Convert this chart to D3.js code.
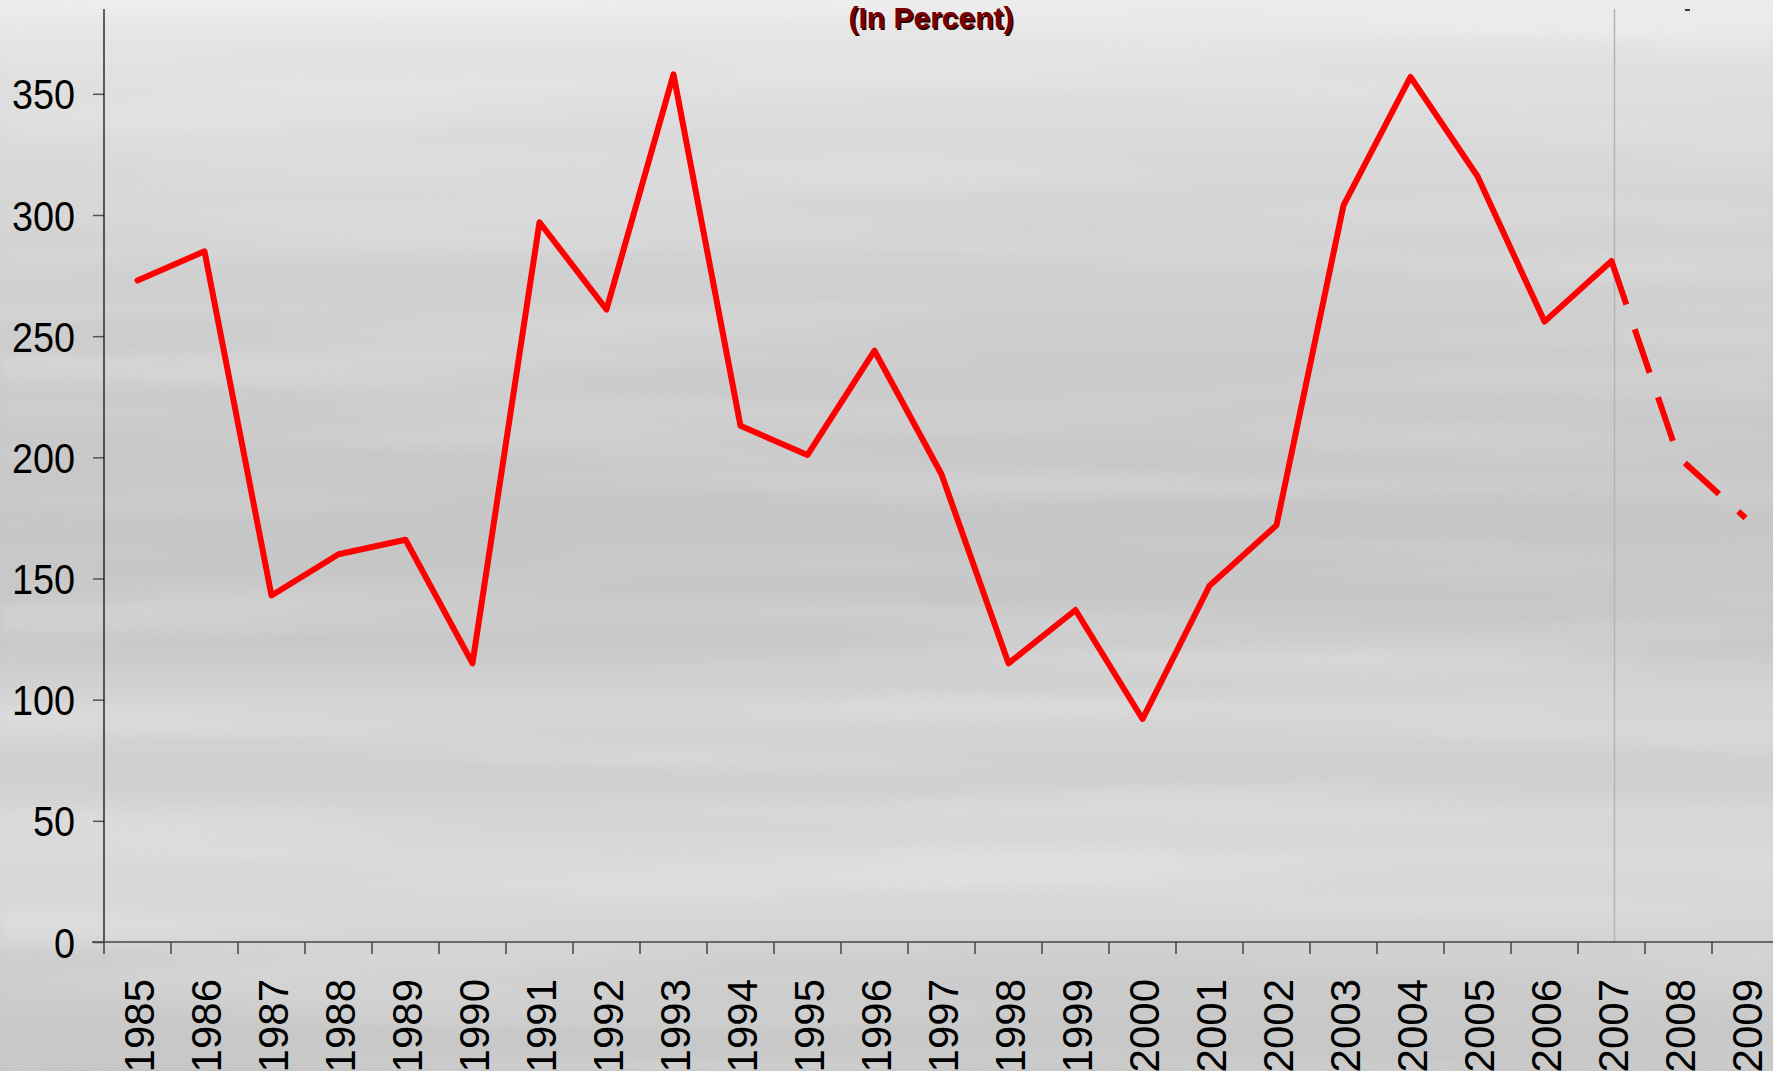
<!DOCTYPE html>
<html>
<head>
<meta charset="utf-8">
<script src="https://cdn.jsdelivr.net/npm/d3@7"></script>
<style>
  html, body { margin: 0; padding: 0; background: #d0d0d0; overflow: hidden; }
  svg { display: block; }
  text { font-family: "Liberation Sans", Arial, sans-serif; }
</style>
</head>
<body>
<svg id="chart" width="1773" height="1071"></svg>
<script>
// ---- data ----
const years = ["1985","1986","1987","1988","1989","1990","1991","1992","1993","1994",
               "1995","1996","1997","1998","1999","2000","2001","2002","2003","2004",
               "2005","2006","2007","2008","2009"];
const values = [273, 285, 143, 160, 166, 115, 297, 261, 358, 213,
                201, 244, 193, 115, 137, 92, 147, 172, 304, 357,
                316, 256, 281, 200, 175];
const forecastStart = "2007";
const yTicks = [0, 50, 100, 150, 200, 250, 300, 350];
const titleText = "(In Percent)";

(function () {
// ---- layout ----
const W = 1773, H = 1071;
const svg = d3.select("#chart");
const mLeft = 104, mTop = 9, mBottom = 942, band = 67;

const x = d3.scaleBand().domain(years).range([mLeft, mLeft + band * years.length]).padding(0);
const y = d3.scaleLinear().domain([0, 385]).range([mBottom, mTop]);
const cx = d => x(d) + x.bandwidth() / 2;

// ---- background ----
const defs = svg.append("defs");
const g = defs.append("linearGradient").attr("id", "bg").attr("x1", 0).attr("y1", 0).attr("x2", 0).attr("y2", 1);
[[0, "#ececec"], [0.06, "#e0e0e0"], [0.2, "#d4d4d4"], [0.35, "#cbcbcb"], [0.5, "#c6c6c6"],
 [0.6, "#c8c8c8"], [0.66, "#d6d6d6"], [0.72, "#cfcfcf"], [0.8, "#d9d9d9"], [0.86, "#d6d6d6"],
 [0.9, "#cdcdcd"], [1, "#c6c6c6"]].forEach(([o, c]) => g.append("stop").attr("offset", o).attr("stop-color", c));
svg.append("rect").attr("width", W).attr("height", H).attr("fill", "url(#bg)");

const f = defs.append("filter").attr("id", "streak").attr("x", 0).attr("y", 0).attr("width", 1).attr("height", 1);
f.append("feTurbulence").attr("type", "fractalNoise").attr("baseFrequency", "0.0012 0.02")
  .attr("numOctaves", 2).attr("seed", 7);
f.append("feColorMatrix").attr("type", "matrix")
  .attr("values", "0 0 0 0 1  0 0 0 0 1  0 0 0 0 1  1.4 0 0 0 -0.62");
f.append("feGaussianBlur").attr("stdDeviation", "6 2");
svg.append("rect").attr("width", W).attr("height", H).attr("filter", "url(#streak)").attr("opacity", 0.4);

// ---- forecast divider ----
svg.append("line")
  .attr("x1", cx(forecastStart) + 3).attr("x2", cx(forecastStart) + 3)
  .attr("y1", mTop).attr("y2", mBottom)
  .attr("stroke", "#b4b4b4").attr("stroke-width", 1.5);

// ---- axes ----
const yAxis = d3.axisLeft(y).tickValues(yTicks).tickSize(11).tickPadding(19);
const ya = svg.append("g").attr("transform", `translate(${mLeft},0)`).call(yAxis);
ya.select(".domain").remove();
ya.selectAll(".tick line").attr("stroke", "#555").attr("stroke-width", 1.5);
ya.selectAll(".tick text").attr("font-size", 42).attr("fill", "#000")
  .attr("x", 0).attr("transform", "translate(-29,0) scale(0.9,1)")
  .attr("font-family", "Liberation Sans, Arial, sans-serif").attr("dy", "0.36em");
svg.append("line").attr("x1", mLeft).attr("x2", mLeft).attr("y1", mTop).attr("y2", mBottom)
  .attr("stroke", "#000").attr("stroke-width", 1.2);

// x axis baseline
svg.append("line").attr("x1", mLeft - 12).attr("x2", W).attr("y1", mBottom).attr("y2", mBottom)
  .attr("stroke", "#444").attr("stroke-width", 1.5);
// boundary ticks
svg.append("g").selectAll("line").data(years).join("line")
  .attr("x1", d => x(d)).attr("x2", d => x(d))
  .attr("y1", mBottom).attr("y2", mBottom + 12)
  .attr("stroke", "#444").attr("stroke-width", 1.5);
// labels
svg.append("g").selectAll("text").data(years).join("text")
  .attr("transform", d => `translate(${cx(d) + 1.5},979) rotate(-90)`)
  .attr("text-anchor", "end").attr("dy", "0.36em")
  .attr("font-size", 42).attr("fill", "#000")
  .text(d => d);

// ---- line ----
const data = years.map((yr, i) => ({ yr, v: values[i] }));
const fi = years.indexOf(forecastStart);
const line = d3.line().x(d => cx(d.yr)).y(d => y(d.v));
svg.append("path").datum(data.slice(0, fi + 1)).attr("d", line)
  .attr("fill", "none").attr("stroke", "#ff0000").attr("stroke-width", 6)
  .attr("stroke-linejoin", "round").attr("stroke-linecap", "round");
svg.append("path").datum(data.slice(fi)).attr("d", line)
  .attr("fill", "none").attr("stroke", "#ff0000").attr("stroke-width", 6)
  .attr("stroke-dasharray", "46,26");

// ---- title ----
svg.append("text").attr("x", 931 + 1.5).attr("y", 28 + 1.5).attr("text-anchor", "middle")
  .attr("font-size", 30).attr("font-weight", "bold").attr("fill", "#2a0000").text(titleText);
svg.append("text").attr("x", 931).attr("y", 28).attr("text-anchor", "middle")
  .attr("font-size", 30).attr("font-weight", "bold").attr("fill", "#7a0000").text(titleText);

// stray mark at top right
svg.append("line").attr("x1", 1685).attr("x2", 1690).attr("y1", 10).attr("y2", 10)
  .attr("stroke", "#000").attr("stroke-width", 1.5);
})();
</script>
</body>
</html>
